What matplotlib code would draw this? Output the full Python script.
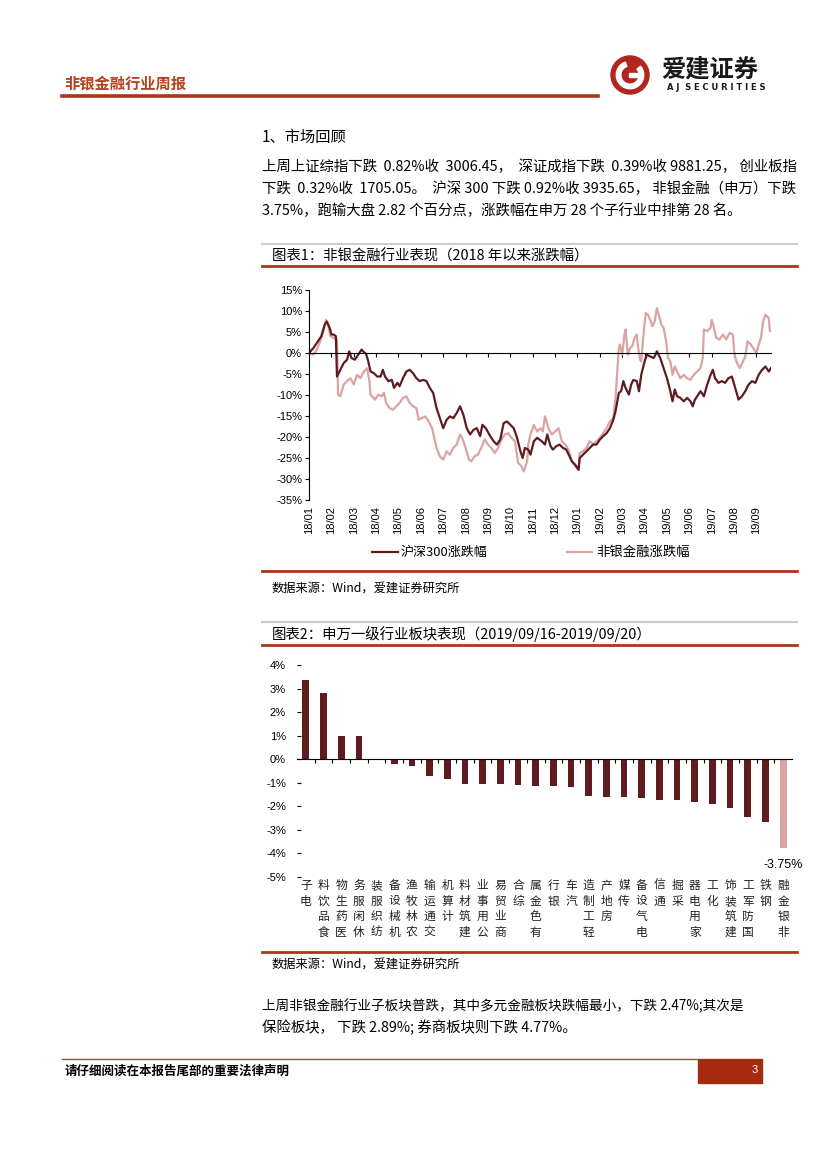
import numpy as np
import matplotlib.pyplot as plt
from matplotlib.lines import Line2D
from matplotlib.patches import Circle, Wedge, Rectangle

plt.rcParams['font.family'] = ['Noto Sans CJK SC', 'DejaVu Sans']
plt.rcParams['axes.unicode_minus'] = False

# ---- chart 1: cumulative change since 2018 (%), (trading day, value)
month_labels = ['18/01', '18/02', '18/03', '18/04', '18/05', '18/06', '18/07',
                '18/08', '18/09', '18/10', '18/11', '18/12', '19/01', '19/02',
                '19/03', '19/04', '19/05', '19/06', '19/07', '19/08', '19/09']
hs300 = [(0, 0.0), (4, 1.2), (8, 2.8), (11, 4.0), (14, 6.7), (16, 7.5), (19, 5.6),
         (20, 4.4), (22, 4.4), (24, 4.0), (25, -5.6), (28, -4.0), (31, -2.4),
         (34, -1.6), (36, 0.4), (38, -1.2), (41, -1.6), (44, -0.4), (47, 0.8),
         (49, 0.2), (51, -0.2), (53, -2.0), (55, -4.4), (58, -4.8), (61, -5.6),
         (64, -5.6), (66, -4.0), (68, -5.6), (71, -6.7), (74, -6.4), (76, -8.3),
         (79, -7.1), (81, -7.9), (84, -6.0), (87, -4.4), (90, -4.0), (93, -4.8),
         (96, -6.0), (99, -6.7), (102, -6.4), (105, -6.7), (108, -8.3), (111, -9.5),
         (114, -13.1), (117, -15.5), (120, -17.9), (123, -15.9), (126, -15.1),
         (129, -15.5), (132, -14.3), (135, -12.7), (138, -14.7), (141, -17.9),
         (144, -19.4), (147, -18.3), (150, -17.9), (153, -19.8), (155, -17.1),
         (158, -17.9), (162, -19.8), (165, -21.0), (168, -21.8), (171, -20.6),
         (174, -16.7), (177, -16.3), (180, -17.1), (183, -17.9), (186, -20.2),
         (189, -23.4), (191, -25.0), (193, -22.6), (196, -23.0), (198, -24.2),
         (201, -21.0), (204, -20.2), (208, -21.0), (211, -21.8), (213, -19.4),
         (216, -22.2), (218, -23.0), (221, -22.2), (224, -21.8), (227, -22.6),
         (230, -23.0), (235, -25.8), (238, -26.6), (241, -27.8), (242, -25.0),
         (245, -24.2), (248, -23.4), (251, -22.6), (254, -21.8), (257, -21.8),
         (260, -20.6), (263, -19.8), (266, -19.1), (269, -17.9), (272, -15.9),
         (274, -13.9), (277, -9.5), (279, -9.1), (281, -6.7), (283, -8.3),
         (286, -9.9), (288, -7.5), (290, -6.4), (293, -6.7), (295, -9.1),
         (297, -5.2), (300, -2.0), (302, -0.4), (305, -0.8), (308, -1.2),
         (309, -0.8), (311, 0.4), (314, -1.2), (316, -2.8), (318, -4.4),
         (320, -6.0), (323, -9.1), (325, -11.5), (327, -8.7), (329, -10.3),
         (332, -10.7), (335, -11.5), (338, -10.7), (341, -11.5), (343, -12.7),
         (345, -11.1), (347, -10.3), (350, -9.1), (353, -10.3), (356, -7.5),
         (359, -5.2), (361, -4.0), (363, -6.0), (366, -7.1), (369, -6.7),
         (372, -7.1), (375, -6.0), (378, -5.6), (381, -8.3), (384, -11.1),
         (387, -10.3), (390, -9.1), (393, -7.5), (396, -6.7), (399, -7.1),
         (402, -5.2), (405, -4.0), (408, -3.2), (411, -4.4), (413, -3.6)]
nonbank = [(0, 0.0), (4, -0.4), (7, 0.8), (10, 2.8), (13, 5.2), (15, 7.9), (17, 6.7),
           (19, 4.0), (22, 3.6), (25, 3.2), (26, -9.9), (28, -10.3), (31, -7.5),
           (34, -6.7), (37, -6.0), (40, -7.5), (43, -5.2), (46, -6.0), (49, -4.4),
           (51, -4.0), (52, -3.6), (54, -6.7), (55, -9.9), (59, -11.1), (62, -9.9),
           (65, -10.3), (67, -9.5), (69, -11.9), (72, -13.1), (75, -13.5),
           (78, -12.7), (81, -11.9), (84, -10.7), (87, -10.3), (90, -11.9),
           (93, -12.7), (96, -13.1), (98, -15.9), (101, -15.5), (104, -15.1),
           (107, -16.3), (110, -17.9), (112, -20.2), (114, -22.6), (117, -24.6),
           (120, -25.4), (123, -23.4), (126, -24.2), (129, -22.6), (132, -21.8),
           (135, -19.4), (137, -20.2), (140, -22.6), (143, -25.4), (145, -25.8),
           (148, -24.6), (151, -24.2), (154, -22.6), (157, -20.6), (160, -21.8),
           (163, -22.6), (166, -23.8), (169, -22.6), (172, -20.6), (175, -19.4),
           (178, -19.1), (181, -20.2), (184, -21.0), (187, -26.2), (190, -27.0),
           (192, -28.2), (195, -25.8), (196, -21.8), (198, -19.4), (201, -17.1),
           (204, -18.7), (207, -17.9), (209, -18.7), (211, -15.1), (214, -17.9),
           (217, -19.4), (220, -18.7), (223, -17.9), (226, -21.0), (229, -21.8),
           (232, -23.0), (235, -25.8), (238, -27.0), (241, -27.8), (242, -23.8),
           (245, -23.4), (248, -22.6), (251, -21.0), (254, -21.8), (257, -21.0),
           (260, -20.2), (263, -19.1), (266, -17.9), (269, -16.3), (272, -15.5),
           (274, -10.7), (277, 1.2), (278, 2.0), (280, -0.4), (282, 4.4), (283, 5.6),
           (285, -0.4), (287, 1.2), (289, 1.6), (291, 3.6), (293, 4.4), (294, 1.6),
           (296, -1.6), (297, -2.0), (299, 4.4), (301, 9.5), (303, 9.1), (305, 7.9),
           (307, 6.4), (309, 7.5), (311, 10.7), (313, 8.7), (315, 6.7), (317, 6.0),
           (319, 3.2), (321, -1.2), (323, -2.0), (325, -5.2), (327, -3.2),
           (329, -4.4), (332, -6.0), (335, -5.2), (338, -6.0), (341, -6.4),
           (344, -5.2), (347, -4.4), (350, -3.6), (352, -1.2), (353, 5.6), (356, 5.2),
           (359, 6.0), (360, 7.9), (362, 6.0), (364, 3.6), (367, 3.2), (370, 4.4),
           (373, 3.2), (376, 4.8), (379, 4.4), (380, 0.4), (382, -2.0), (385, -3.6),
           (388, -2.0), (390, -0.8), (392, 2.8), (395, 2.0), (397, 1.2), (400, 0.0),
           (402, 2.0), (404, 3.6), (406, 7.5), (408, 9.1), (411, 8.3), (412, 5.2),
           (413, 5.2)]
trading_days = 413

# ---- chart 2: Shenwan level-1 industries, 2019/09/16-2019/09/20 (%)
industries = ['电子', '食品饮料', '医药生物', '休闲服务', '纺织服装', '机械设备',
              '农林牧渔', '交通运输', '计算机', '建筑材料', '公用事业', '商业贸易',
              '综合', '有色金属', '银行', '汽车', '轻工制造', '房地产', '传媒',
              '电气设备', '通信', '采掘', '家用电器', '化工', '建筑装饰',
              '国防军工', '钢铁', '非银金融']
weekly_change = [3.35, 2.8, 1.0, 1.0, 0.0, -0.2, -0.3, -0.7, -0.85, -1.05, -1.05,
                 -1.05, -1.1, -1.15, -1.15, -1.2, -1.55, -1.6, -1.6, -1.65, -1.75,
                 -1.75, -1.8, -1.9, -2.05, -2.45, -2.65, -3.75]

DARK = '#5E1C20'
PINK = '#DBA3A3'
RED = '#A8381A'
W, H = 827, 1169


def fx(x):
    return x / W


def fy(y):
    return 1 - y / H


fig = plt.figure(figsize=(W / 100, H / 100), dpi=100)
renderer = fig.canvas.get_renderer()


def hline(x0, x1, y, color, lw):
    fig.add_artist(Line2D([fx(x0), fx(x1)], [fy(y), fy(y)], color=color, lw=lw))


def put(x, y, s, size, **kw):
    return fig.text(fx(x), fy(y), s, fontsize=size, va='center', **kw)


def justified(x0, x1, y, s, size):
    # widen the gaps (spaces, full-width punctuation) until the line reaches x1
    parts = s.replace('，', '， ').replace('。', '。 ').split(' ')
    gaps = [' '] * (len(parts) - 1)
    t = put(x0, y, s, size)
    k = 0
    while t.get_window_extent(renderer).x1 < x1 - 2 and gaps:
        gaps[k % len(gaps)] += ' '
        k += 1
        t.set_text(''.join(p + g for p, g in zip(parts, gaps + [''])))
    return t


# header
put(64, 84, '非银金融行业周报', 11, color='#B5401E', fontweight='bold')
hline(62, 598, 96, RED, 2.6)
lax = fig.add_axes([fx(610), fy(95), 40 / W, 40 / H])
lax.set_xlim(-1.05, 1.05)
lax.set_ylim(-1.05, 1.05)
lax.set_aspect('equal')
lax.axis('off')
lax.add_patch(Circle((0, 0), 1, color='#B3261E'))
lax.add_patch(Wedge((0, 0), 0.72, 110, 400, width=0.24, color='white'))
lax.add_patch(Rectangle((-0.05, -0.12), 0.62, 0.22, color='white'))
put(661, 70, '爱建证券', 17.5, color='#1A1A1A', fontweight='bold')
put(667, 88, 'A J  S E C U R I T I E S', 6, color='#1A1A1A', fontweight='bold',
    family='DejaVu Sans')

# section text
put(262, 137, '1、市场回顾', 11)
justified(262, 797, 167,
          '上周上证综指下跌 0.82%收 3006.45，深证成指下跌 0.39%收 9881.25，创业板指', 10.4)
justified(262, 797, 189,
          '下跌 0.32%收 1705.05。沪深 300 下跌 0.92%收 3935.65，非银金融（申万）下跌', 10.4)
put(262, 211, '3.75%，跑输大盘 2.82 个百分点，涨跌幅在申万 28 个子行业中排第 28 名。', 10.4)

# chart 1 frame
hline(262, 797, 244, '#CCCCCC', 1.5)
put(272, 256, '图表1：非银金融行业表现（2018 年以来涨跌幅）', 10.4)
hline(262, 797, 266, RED, 2)

ax1 = fig.add_axes([fx(309), fy(500), (771 - 309) / W, (500 - 290) / H])
nb_t, nb_v = np.array(nonbank).T
hs_t, hs_v = np.array(hs300).T
ax1.plot(nb_t, nb_v, color=PINK, lw=1.6)
ax1.plot(hs_t, hs_v, color=DARK, lw=1.6)
ax1.set_xlim(0, trading_days)
ax1.set_ylim(-35, 15)
ax1.spines['top'].set_visible(False)
ax1.spines['right'].set_visible(False)
ax1.spines['bottom'].set_position(('data', 0))
ax1.spines['left'].set_linewidth(0.8)
ax1.spines['bottom'].set_linewidth(0.8)
ax1.set_xticks(np.arange(len(month_labels)) * 20)
ax1.tick_params(axis='x', direction='out', length=3, width=0.8, labelbottom=False)
yt = np.arange(-35, 16, 5)
ax1.set_yticks(yt)
ax1.set_yticklabels([f'{v}%' for v in yt], family='Liberation Sans', fontsize=8)
ax1.tick_params(axis='y', length=3, width=0.8, pad=2)
for k, lab in enumerate(month_labels):
    ax1.text(20 * k, -0.03, lab, transform=ax1.get_xaxis_transform(), rotation=90,
             ha='center', va='top', fontsize=8, family='Liberation Sans')

fig.add_artist(Line2D([fx(372), fx(398)], [fy(552), fy(552)], color=DARK, lw=1.6))
put(401, 552, '沪深300涨跌幅', 9.4)
fig.add_artist(Line2D([fx(567), fx(592)], [fy(552), fy(552)], color=PINK, lw=1.6))
put(596, 552, '非银金融涨跌幅', 9.6)
hline(262, 797, 571, RED, 2)
put(272, 588, '数据来源：Wind，爱建证券研究所', 8.8)

# chart 2 frame
hline(262, 797, 622, '#CCCCCC', 1.5)
put(272, 634, '图表2：申万一级行业板块表现（2019/09/16-2019/09/20）', 10.4)
hline(262, 797, 645, RED, 2)

ax2 = fig.add_axes([fx(297), fy(877), (792 - 297) / W, (877 - 665) / H])
pos = np.arange(len(industries))
colors = [DARK] * (len(industries) - 1) + [PINK]
ax2.bar(pos, weekly_change, width=0.38, color=colors)
ax2.set_xlim(-0.5, len(industries) - 0.5)
ax2.set_ylim(-5, 4)
for s in ['top', 'right', 'left']:
    ax2.spines[s].set_visible(False)
ax2.spines['bottom'].set_position(('data', 0))
ax2.spines['bottom'].set_linewidth(0.8)
ax2.set_xticks(np.arange(0.5, len(industries) - 0.5, 1))
ax2.tick_params(axis='x', direction='out', length=3, width=0.8, labelbottom=False)
yt2 = np.arange(-5, 5, 1)
ax2.set_yticks(yt2)
ax2.set_yticklabels([f'{v}%' for v in yt2], family='Liberation Sans', fontsize=8)
ax2.tick_params(axis='y', direction='in', length=3, width=0.8, pad=8)
for i, name in enumerate(industries):
    ax2.text(i, -0.01, '\n'.join(reversed(name)), transform=ax2.get_xaxis_transform(),
             ha='center', va='top', fontsize=8.5, linespacing=1.25, color='#222222')
ax2.annotate(f'{weekly_change[-1]:.2f}%', xy=(pos[-1], weekly_change[-1]),
             xytext=(0, -8), textcoords='offset points', ha='center', va='top',
             fontsize=9, family='Liberation Sans')

hline(262, 797, 952, RED, 2)
put(272, 964, '数据来源：Wind，爱建证券研究所', 8.8)

put(262, 1006, '上周非银金融行业子板块普跌，其中多元金融板块跌幅最小，下跌 2.47%;其次是', 9.8)
put(262, 1028, '保险板块， 下跌 2.89%; 券商板块则下跌 4.77%。', 10.4)

# footer
hline(62, 698, 1059, '#C0392B', 1)
fig.add_artist(Rectangle((fx(698), fy(1083)), 64 / W, 24 / H, color='#A52A0F',
                         transform=fig.transFigure))
put(752, 1070, '3', 8, color='white', family='Liberation Sans')
put(65, 1071, '请仔细阅读在本报告尾部的重要法律声明', 9, fontweight='bold')

fig.savefig('out.png', dpi=100)
